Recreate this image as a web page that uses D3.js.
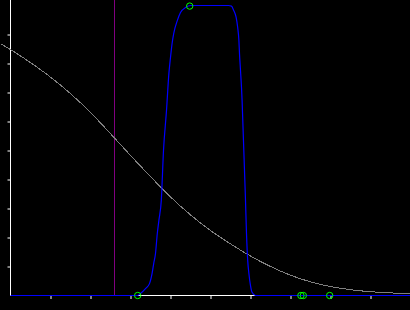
<!DOCTYPE html>
<html><head><meta charset="utf-8">
<script src="https://cdn.jsdelivr.net/npm/d3@7"></script>
<style>html,body{margin:0;padding:0;background:#000;overflow:hidden}</style>
</head><body>
<script>
// Data
const xTicks = [1,2,3,4,5,6,7,8,9];
const yTicks = [1,2,3,4,5,6,7,8,9];

const grayX = [-0.25,0,0.5,1,1.5,2,2.5,3,3.5,4,4.5,5,5.5,6,6.5,7,7.5,8,8.5,9,9.5,10];
const grayY = [8.68,8.48,8.03,7.53,6.96,6.31,5.58,4.83,4.10,3.40,2.78,2.24,1.78,1.36,1.00,0.70,0.47,0.31,0.20,0.13,0.09,0.06];

const blueX = [0,3,3.175,3.25,3.375,3.475,3.54,3.58,3.625,3.67,3.71,3.77,3.825,3.9,3.96,4.0,4.04,4.08,4.17,4.25,4.375,4.5,5.45,5.525,5.58,5.64,5.68,5.71,5.725,5.75,5.775,5.79,5.875,5.9,5.93,5.96,6.0,6.04,6.125,10];
const blueY = [0,0,0,0.07,0.24,0.41,0.76,1.10,1.45,2.14,2.59,3.28,5.0,6.38,7.66,8.21,8.69,9.03,9.48,9.76,9.93,10,10,9.98,9.83,9.6,9.24,8.79,8.34,7.76,7.17,6.72,3.28,2.14,1.21,0.76,0.34,0.11,0,0];

const vLineX = 2.6;

const markerX = [4.48,3.18,7.26,7.32,7.98];
const markerY = [9.98,0,0,0,0];

const W = 410, H = 310;
const svg = d3.select("body").append("svg").attr("width", W).attr("height", H)
  .style("background", "#000").style("display","block");

const x = d3.scaleLinear().domain([0,10]).range([10.5,410.5]);
const y = d3.scaleLinear().domain([0,10]).range([295.5,5.5]);

// axes
const xAxis = d3.axisBottom(x).tickValues(xTicks).tickSize(3).tickSizeOuter(0).tickFormat("");
const yAxis = d3.axisLeft(y).tickValues(yTicks).tickSize(3).tickSizeOuter(0).tickFormat("");

const gx = svg.append("g").attr("transform", `translate(0,${y(0)})`).call(xAxis);
gx.select(".domain").attr("d", `M${x(0)-0.5},0H410`).attr("stroke","#fff");
gx.selectAll(".tick line").attr("stroke","#fff").attr("y1",0.5).attr("y2",3.5);

const gy = svg.append("g").attr("transform", `translate(${x(0)},0)`).call(yAxis);
gy.select(".domain").attr("d", `M0,0V${y(0)}`).attr("stroke","#fff");
gy.selectAll(".tick line").attr("stroke","#fff");

// vertical purple line
svg.append("line").attr("x1", x(vLineX)).attr("x2", x(vLineX)).attr("y1", 0).attr("y2", y(0))
  .attr("stroke", "#800080").attr("stroke-width", 1).attr("shape-rendering","crispEdges");

// gray curve
svg.append("path").datum(grayX.map((d,i)=>[d, grayY[i]]))
  .attr("d", d3.line().x(d=>x(d[0])).y(d=>y(d[1])).curve(d3.curveMonotoneX))
  .attr("fill","none").attr("stroke","#808080").attr("stroke-width",1)
  .attr("shape-rendering","crispEdges");

// blue curve
svg.append("path").datum(blueX.map((d,i)=>[d, blueY[i]]))
  .attr("d", d3.line().x(d=>x(d[0])).y(d=>y(d[1])).curve(d3.curveMonotoneX))
  .attr("fill","none").attr("stroke","#0000ff").attr("stroke-width",1.2);

// markers
svg.selectAll("circle.m").data(markerX.map((d,i)=>[d, markerY[i]])).enter()
  .append("circle").attr("class","m")
  .attr("cx", d=>x(d[0])).attr("cy", d=>y(d[1])).attr("r", 3.2)
  .attr("fill","none").attr("stroke","#00ff00").attr("stroke-width",1);
</script>
</body></html>
